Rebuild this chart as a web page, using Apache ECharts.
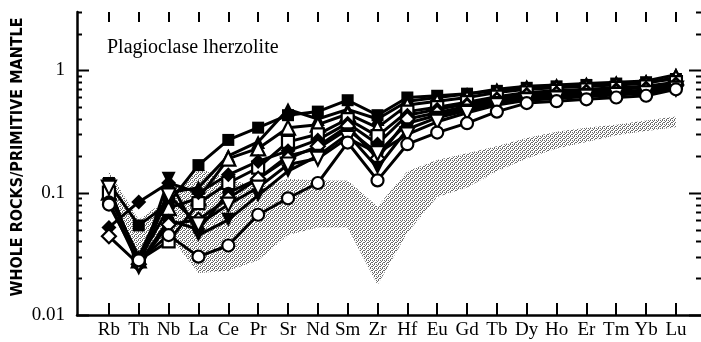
<!DOCTYPE html>
<html>
<head>
<meta charset="utf-8">
<script src="https://cdn.jsdelivr.net/npm/echarts@6/dist/echarts.min.js"></script>
<style>
  html, body { margin: 0; padding: 0; background: #fff; }
  #chart { width: 701px; height: 342px; }
</style>
</head>
<body>
<div id="chart"></div>
<script>
// element order along the x axis
const elements = ['Rb', 'Th', 'Nb', 'La', 'Ce', 'Pr', 'Sr', 'Nd', 'Sm', 'Zr', 'Hf', 'Eu', 'Gd', 'Tb', 'Dy', 'Ho', 'Er', 'Tm', 'Yb', 'Lu']

// y ticks (log axis)
const yMajorTicks = [0.01, 0.1, 1]
const yMajorLabels = ['0.01', '0.1', '1']
const yMinorTicks = [0.02, 0.03, 0.04, 0.05, 0.06, 0.07, 0.08, 0.09,
  0.2, 0.3, 0.4, 0.5, 0.6, 0.7, 0.8, 0.9, 2, 3]

// grey stippled field
const bandLow = [0.076, 0.03, 0.045, 0.022, 0.023, 0.028, 0.045, 0.052, 0.052, 0.0176, 0.047, 0.092, 0.11, 0.15, 0.19, 0.23, 0.26, 0.295, 0.32, 0.343]
const bandHigh = [0.15, 0.06, 0.09, 0.16, 0.13, 0.11, 0.13, 0.126, 0.126, 0.077, 0.15, 0.185, 0.21, 0.24, 0.28, 0.315, 0.34, 0.36, 0.39, 0.42]

// plagioclase lherzolite samples
const filledSquare = [0.12, 0.054, 0.082, 0.168, 0.27, 0.34, 0.43, 0.46, 0.57, 0.43, 0.60, 0.62, 0.645, 0.68, 0.72, 0.74, 0.76, 0.78, 0.80, 0.85]
const filledTriangle = [0.095, 0.03, 0.10, 0.11, 0.20, 0.26, 0.48, 0.40, 0.48, 0.40, 0.56, 0.60, 0.64, 0.70, 0.74, 0.76, 0.78, 0.80, 0.82, 0.92]
const openTriangle = [0.10, 0.028, 0.075, 0.09, 0.19, 0.23, 0.34, 0.36, 0.44, 0.34, 0.52, 0.56, 0.60, 0.66, 0.70, 0.72, 0.74, 0.76, 0.78, 0.88]
const openSquare = [0.10, 0.028, 0.04, 0.082, 0.12, 0.16, 0.26, 0.30, 0.40, 0.29, 0.46, 0.50, 0.55, 0.61, 0.66, 0.68, 0.70, 0.72, 0.74, 0.80]
const filledDiamond = [0.052, 0.084, 0.12, 0.10, 0.14, 0.18, 0.22, 0.27, 0.37, 0.25, 0.43, 0.48, 0.53, 0.59, 0.64, 0.66, 0.68, 0.70, 0.72, 0.78]
const filledCircle = [0.085, 0.026, 0.06, 0.05, 0.10, 0.13, 0.20, 0.23, 0.33, 0.21, 0.37, 0.43, 0.49, 0.56, 0.61, 0.62, 0.64, 0.65, 0.67, 0.73]
const openDiamond = [0.044, 0.026, 0.055, 0.06, 0.09, 0.13, 0.19, 0.24, 0.35, 0.19, 0.40, 0.45, 0.51, 0.57, 0.62, 0.64, 0.66, 0.67, 0.69, 0.75]
const filledInvTriangle = [0.115, 0.024, 0.13, 0.045, 0.06, 0.095, 0.15, 0.20, 0.30, 0.16, 0.33, 0.41, 0.47, 0.54, 0.59, 0.61, 0.63, 0.64, 0.66, 0.72]
const openInvTriangle = [0.11, 0.026, 0.095, 0.055, 0.08, 0.11, 0.17, 0.19, 0.28, 0.21, 0.30, 0.38, 0.45, 0.52, 0.57, 0.59, 0.61, 0.63, 0.65, 0.71]
const openCircle = [0.08, 0.028, 0.045, 0.030, 0.037, 0.066, 0.090, 0.12, 0.257, 0.126, 0.249, 0.31, 0.37, 0.46, 0.54, 0.56, 0.58, 0.60, 0.62, 0.70]

const samples = [
  { data: filledSquare, symbol: 'rect', size: 12, filled: true },
  { data: filledTriangle, symbol: 'triangle', size: 14, filled: true },
  { data: openTriangle, symbol: 'triangle', size: 14, filled: false },
  { data: openSquare, symbol: 'rect', size: 12, filled: false },
  { data: filledDiamond, symbol: 'diamond', size: 15, filled: true },
  { data: filledCircle, symbol: 'circle', size: 12, filled: true },
  { data: openDiamond, symbol: 'diamond', size: 14, filled: false },
  { data: filledInvTriangle, symbol: 'triangle', size: 14, filled: true, rotate: 180 },
  { data: openInvTriangle, symbol: 'triangle', size: 14, filled: false, rotate: 180 },
  { data: openCircle, symbol: 'circle', size: 12, filled: false }
]

const X_MIN = -1.07
const X_MAX = 19.84
const GRID = { left: 77, right: 0, top: 12, bottom: 27 }
const idx = elements.map((e, i) => i)

// stipple pattern (4x4 tile with scattered dots)
const pat = document.createElement('canvas')
pat.width = 4
pat.height = 4
const pc = pat.getContext('2d')
pc.fillStyle = '#ffffff'
pc.fillRect(0, 0, 4, 4)
pc.fillStyle = '#6a6a6a'
;[[0, 0], [2, 0], [1, 1], [3, 2], [0, 2], [2, 3]].forEach(p => pc.fillRect(p[0], p[1], 1, 1))

const chart = echarts.init(document.getElementById('chart'))

const series = [
  {
    // field drawn as one polygon through the axis scales
    type: 'custom',
    silent: true,
    data: elements.map((e, i) => [i, bandLow[i], bandHigh[i]]),
    encode: { x: 0, y: [1, 2] },
    renderItem: (params, api) => {
      if (params.dataIndex !== 0) return null
      const top = bandHigh.map((v, i) => api.coord([i, v]))
      const bottom = bandLow.map((v, i) => api.coord([i, v])).reverse()
      return {
        type: 'polygon',
        shape: { points: top.concat(bottom) },
        style: { fill: { image: pat, repeat: 'repeat' }, stroke: null }
      }
    },
    z: 1
  }
]

samples.forEach(s => {
  series.push({
    type: 'line',
    data: s.data.map((v, i) => [i, v]),
    symbol: s.symbol,
    symbolSize: s.size,
    symbolRotate: s.rotate || 0,
    showAllSymbol: true,
    lineStyle: { color: '#000', width: 3 },
    itemStyle: {
      color: s.filled ? '#000' : '#fff',
      borderColor: '#000',
      borderWidth: s.filled ? 0 : 2.2
    },
    z: 3
  })
})

const option = {
  animation: false,
  backgroundColor: '#fff',
  grid: GRID,
  xAxis: [
    {
      type: 'value', min: X_MIN, max: X_MAX, position: 'bottom',
      axisLine: { show: true, onZero: false, lineStyle: { color: '#000', width: 2.5 } },
      axisTick: { show: true, inside: true, length: 12, lineStyle: { color: '#000', width: 2 }, customValues: idx },
      axisLabel: {
        customValues: idx,
        formatter: v => elements[Math.round(v)] || '',
        margin: 6, color: '#000', fontFamily: 'Liberation Serif', fontSize: 19
      },
      splitLine: { show: false }
    },
    {
      type: 'value', min: X_MIN, max: X_MAX, position: 'top',
      axisLine: { show: false, onZero: false },
      axisTick: { show: true, inside: true, length: 10, lineStyle: { color: '#000', width: 2 }, customValues: idx },
      axisLabel: { show: false },
      splitLine: { show: false }
    }
  ],
  yAxis: [
    {
      type: 'log', min: 0.01, max: 3, position: 'left',
      axisLine: { show: true, onZero: false, lineStyle: { color: '#000', width: 2.5 } },
      axisTick: { show: false },
      axisLabel: {
        color: '#000', fontFamily: 'Liberation Serif', fontSize: 19, margin: 12,
        formatter: v => {
          const k = yMajorTicks.findIndex(t => Math.abs(t - v) / t < 1e-6)
          return k >= 0 ? yMajorLabels[k] : ''
        }
      },
      splitLine: { show: false }
    },
    {
      type: 'log', min: 0.01, max: 3, position: 'right',
      axisLine: { show: false, onZero: false }, axisTick: { show: false },
      axisLabel: { show: false }, splitLine: { show: false }
    }
  ],
  series
}

chart.setOption(option)

// log ticks on both sides (major 0.01/0.1/1, minor 2..9)
const W = chart.getWidth()
const leftX = GRID.left
const rightX = W - GRID.right
const tickEls = []
const addTick = (v, len) => {
  const y = Math.round(chart.convertToPixel({ yAxisIndex: 0 }, v)) + 0.5
  tickEls.push({ type: 'line', silent: true, shape: { x1: leftX, y1: y, x2: leftX + len, y2: y }, style: { stroke: '#000', lineWidth: 2 } })
  tickEls.push({ type: 'line', silent: true, shape: { x1: rightX, y1: y, x2: rightX - len, y2: y }, style: { stroke: '#000', lineWidth: 2 } })
}
yMajorTicks.forEach(v => addTick(v, 12))
yMinorTicks.forEach(v => addTick(v, 5))

chart.setOption({
  graphic: [
    ...tickEls,
    {
      type: 'text', silent: true, x: 18, y: 157, rotation: Math.PI / 2,
      style: {
        text: 'WHOLE ROCKS/PRIMITIVE MANTLE',
        font: 'bold 16px "Liberation Sans Narrow", "DejaVu Sans Condensed", sans-serif',
        fill: '#000', align: 'center', verticalAlign: 'middle'
      }
    },
    {
      type: 'text', silent: true, x: 107, y: 48,
      style: {
        text: 'Plagioclase lherzolite',
        font: '20px "Liberation Serif", serif',
        fill: '#000', align: 'left', verticalAlign: 'middle'
      }
    }
  ]
})
</script>
</body>
</html>
